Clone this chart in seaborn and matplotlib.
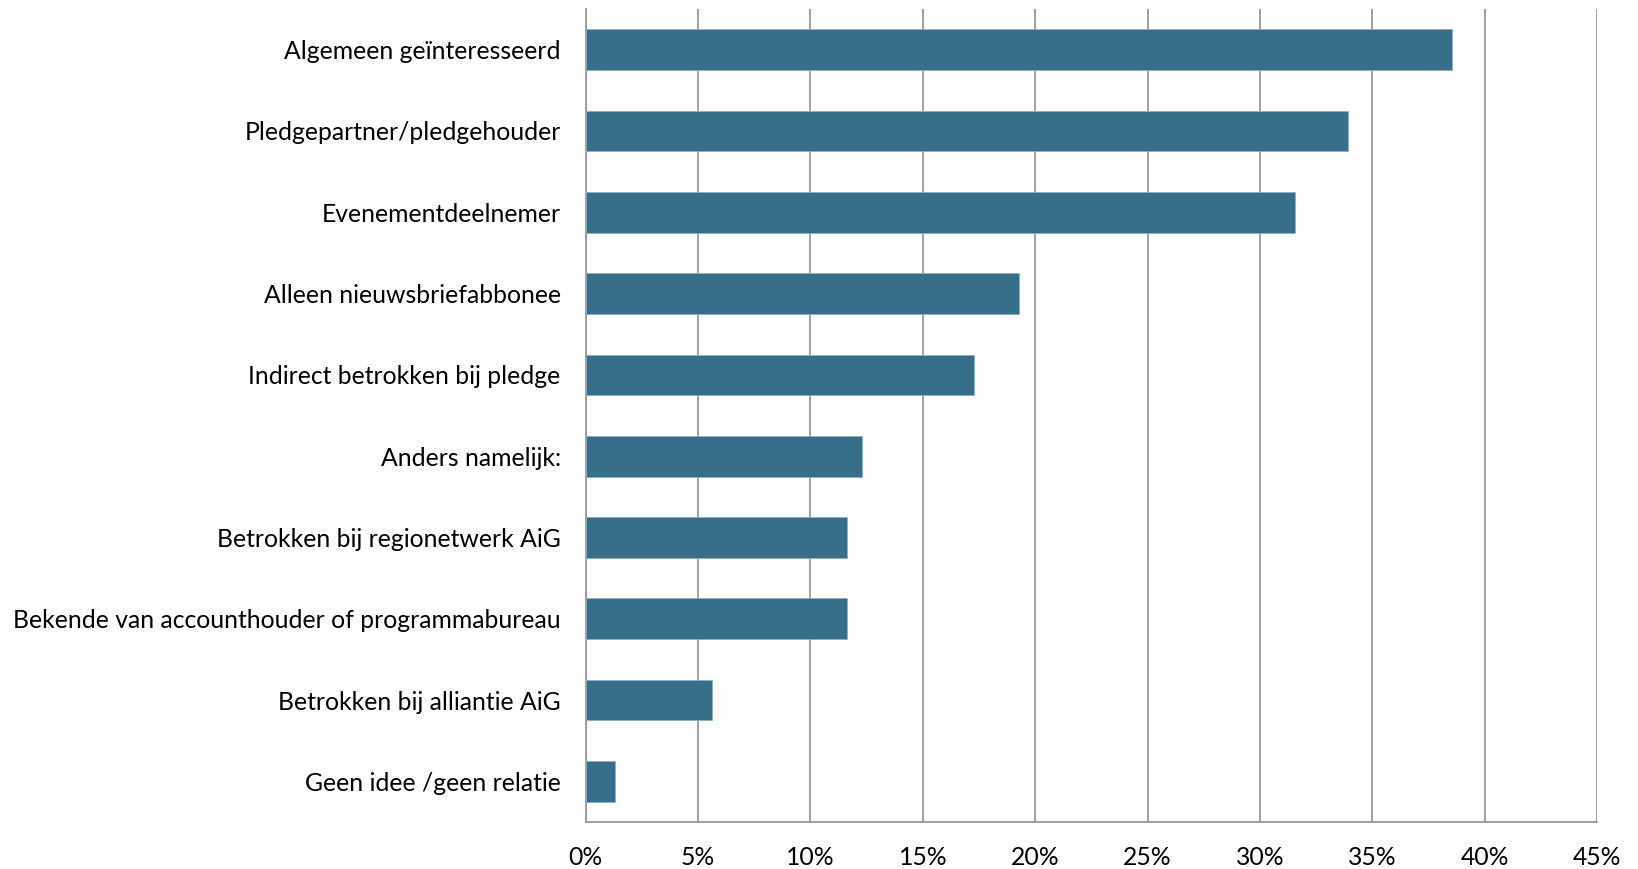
#!/usr/bin/env python3
"""Horizontal bar chart: relatie tot de pledge (share of respondents)."""

import matplotlib

matplotlib.use("Agg")
import matplotlib.pyplot as plt
import matplotlib.ticker as mticker
import numpy as np
import pandas as pd
import seaborn as sns

CATEGORIES = [
    "Algemeen geïnteresseerd",
    "Pledgepartner/pledgehouder",
    "Evenementdeelnemer",
    "Alleen nieuwsbriefabbonee",
    "Indirect betrokken bij pledge",
    "Anders namelijk:",
    "Betrokken bij regionetwerk AiG",
    "Bekende van accounthouder of programmabureau",
    "Betrokken bij alliantie AiG",
    "Geen idee /geen relatie",
]
SHARES = [38.55, 33.91, 31.57, 19.26, 17.26, 12.30, 11.63, 11.63, 5.64, 1.32]
X_TICKS = [0, 5, 10, 15, 20, 25, 30, 35, 40, 45]

BAR_COLOR = "#376f8b"
AXIS_GRAY = "#989898"

sns.set_style("white")
plt.rcParams["font.family"] = ["Lato", "DejaVu Sans"]

df = pd.DataFrame({"category": CATEGORIES, "share": SHARES})

fig = plt.figure(figsize=(16.38, 8.69), dpi=100)
ax = fig.add_axes([0.3576, 0.054, 0.975 - 0.3576, 0.9896 - 0.054])

sns.barplot(
    data=df,
    x="share",
    y="category",
    ax=ax,
    color=BAR_COLOR,
    saturation=1,
    width=0.5,
    edgecolor="#8fb0c4",
    linewidth=0.6,
    zorder=3,
)

ax.set_xlim(0, 45)
ax.set_ylim(len(CATEGORIES) - 0.5, -0.5)
ax.set_xticks(X_TICKS)
ax.xaxis.set_major_formatter(mticker.FuncFormatter(lambda v, _: f"{v:.0f}%"))
ax.grid(axis="x", color=AXIS_GRAY, linewidth=1.3, zorder=0)
ax.set_axisbelow(True)

# category separators as outward ticks on the y axis
ax.set_yticks(np.arange(-0.5, len(CATEGORIES), 1.0), minor=True)
ax.tick_params(axis="y", which="major", length=0, pad=18, labelsize=17.8, labelcolor="black")
ax.tick_params(axis="y", which="minor", length=8, width=1.3, color=AXIS_GRAY, direction="out")
ax.tick_params(axis="x", which="major", length=8, width=1.3, color=AXIS_GRAY,
               direction="out", pad=9, labelsize=17.8, labelcolor="black")

for side in ("top", "right"):
    ax.spines[side].set_visible(False)
for side in ("left", "bottom"):
    ax.spines[side].set_color(AXIS_GRAY)
    ax.spines[side].set_linewidth(1.3)

ax.set_xlabel("")
ax.set_ylabel("")

fig.savefig("out.png", dpi=100, facecolor="white")
